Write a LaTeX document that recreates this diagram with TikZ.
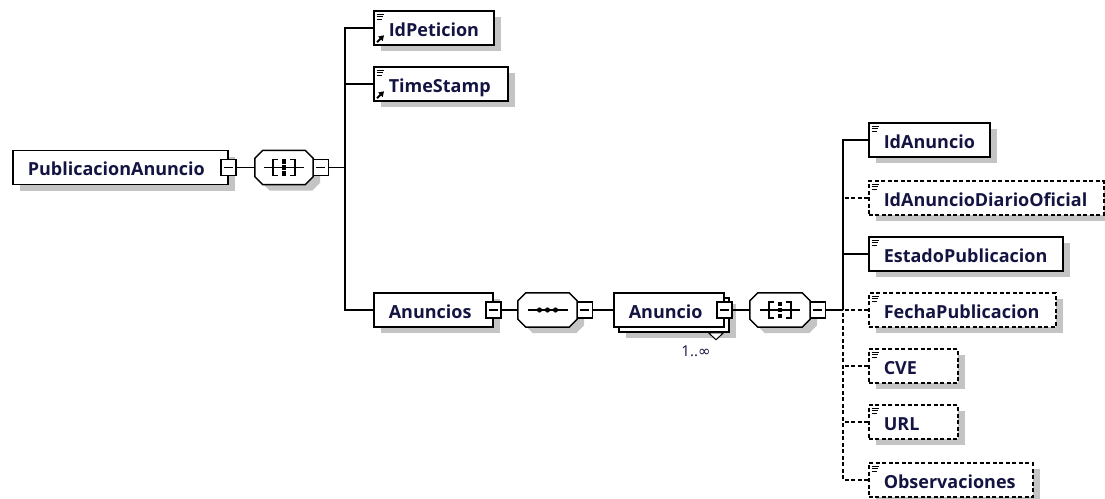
\documentclass[tikz,border=0pt]{standalone}
\usepackage{fontspec}
\setmainfont{Open Sans}
\newfontfamily\symfont{DejaVu Sans}
\usetikzlibrary{shadows,calc,arrows.meta}
\definecolor{txt}{RGB}{20,20,66}
\definecolor{shd}{RGB}{196,196,196}
\tikzset{
  shad/.style={general shadow={fill=shd, shadow xshift=7pt, shadow yshift=-6pt}},
  flatbox/.style={draw=black, fill=white, line width=1.5pt, minimum height=34pt,
    inner xsep=15pt, inner ysep=0pt, text width=#1, align=left, anchor=west,
    text height=17pt, text depth=1pt, font=\bfseries\fontsize{18}{18}\selectfont, text=txt,
    execute at begin node={\hyphenpenalty=10000\exhyphenpenalty=10000}},
  elbox/.style={flatbox=#1, shad},
  optbox/.style={elbox=#1, dash pattern=on 4pt off 2.5pt},
  plainbox/.style={draw=black, fill=white, line width=1.5pt, minimum height=34pt, minimum width=#1, inner sep=0pt, anchor=west},
  octnode/.style={minimum width=#1, minimum height=34pt, inner sep=0pt},
  octdraw/.style={draw=black, fill=white, line width=1.5pt, shad},
  msq/.style={draw=black, fill=white, line width=1.2pt, minimum width=15pt, minimum height=16pt, inner sep=0pt,
    path picture={\draw[line width=1.2pt] ($(path picture bounding box.west)+(3,0)$) -- ($(path picture bounding box.east)+(-3,0)$);}},
  conn/.style={line width=1.5pt},
  optconn/.style={conn, dash pattern=on 4pt off 2.5pt},
}
\newcommand\elicon[1]{\foreach \k in {0,1,2}{\draw[line width=1pt] ($(#1.north west)+(3.5,4+2.5*\k)$) -- ++(7-0.8*\k,0);}}
\newcommand\refarrow[1]{\draw[line width=2pt,-{Triangle[length=5pt,width=6pt]}] ($(#1.south west)+(4,-3.5)$) -- ++(7,-7);}
\newcommand\mkoct[2]{%
  \draw[octdraw] ($(#1.north west)+(#2,0)$) -- ($(#1.north east)+(-#2,0)$) -- ($(#1.north east)+(0,#2)$) --
    ($(#1.south east)+(0,-#2)$) -- ($(#1.south east)+(-#2,0)$) -- ($(#1.south west)+(#2,0)$) --
    ($(#1.south west)+(0,-#2)$) -- ($(#1.north west)+(0,#2)$) -- cycle;}
\newcommand\allicon[1]{%
  \draw[line width=1.4pt] ($(#1)+(-20,0)$) -- ($(#1)+(20,0)$);
  \draw[line width=1.4pt] ($(#1)+(-6,-8)$) -- ($(#1)+(-11,-8)$) -- ($(#1)+(-11,8)$) -- ($(#1)+(-6,8)$);
  \draw[line width=1.4pt] ($(#1)+(6,-8)$) -- ($(#1)+(11,-8)$) -- ($(#1)+(11,8)$) -- ($(#1)+(6,8)$);
  \foreach \k in {-6,0,6}{\fill ($(#1)+(-2.2,\k-2.2)$) rectangle ++(4.4,4.4);}}
\newcommand\seqicon[1]{%
  \draw[line width=1.4pt] ($(#1)+(-20,0)$) -- ($(#1)+(20,0)$);
  \foreach \k in {-8,0,8}{\fill ($(#1)+(\k,0)$) circle (2.6);}}
\begin{document}
\begin{tikzpicture}[x=1pt,y=-1pt]
\useasboundingbox (0,0) rectangle (1105,498);
% root
\node[elbox=185pt] (pa) at (12,167.5) {PublicacionAnuncio};
\node[octnode=58pt] (o1) at (284,167.5) {};
\mkoct{o1}{8}
\allicon{o1.center}
\node[msq] (m1) at (pa.east) {};
\node[msq] (m2) at ($(o1.east)+(7.5,0)$) {};
\coordinate (t1) at (345,167.5);
% first level children
\node[elbox=90pt] (idp) at (373,28) {IdPeticion};
\node[elbox=104pt] (ts) at (373,84) {TimeStamp};
\node[elbox=89pt] (anuncios) at (373,310) {Anuncios};
\elicon{idp}\refarrow{idp}
\elicon{ts}\refarrow{ts}
\draw[conn] (m1) -- (o1.west);
\draw[conn] (m2) -- (t1);
\draw[conn] (idp.west) -| (t1);
\draw[conn] (ts.west) -- (ts.west -| t1);
\draw[conn] (anuncios.west) -| (t1);
% Anuncios sequence
\node[octnode=59pt] (o2) at (547.5,310) {};
\mkoct{o2}{8}
\seqicon{o2.center}
\node[msq] (m3) at (anuncios.east) {};
\node[msq] (m4) at ($(o2.east)+(7.5,0)$) {};
% Anuncio (multiple)
\node[plainbox=110pt, shad] (anback) at (618,315) {};
\node[flatbox=80pt] (anuncio) at (613,310) {Anuncio};
\draw[line width=1pt, fill=white] ($(anback.south east)+(-21,0)$) -- ++(15,0) -- ++(-7.5,7) -- cycle;
\node[font=\fontsize{15}{15}\selectfont, text=txt, inner sep=0pt] (card) at (696,351) {1..{\symfont ∞}};
\draw[conn] (m3) -- (o2.west);
\draw[conn] (m4) -- (anuncio.west);
\node[octnode=60pt] (o3) at (780,310) {};
\mkoct{o3}{8}
\allicon{o3.center}
\node[msq] (m5) at (anuncio.east) {};
\node[msq] (m6) at ($(o3.east)+(7.5,0)$) {};
\coordinate (t2) at (843,310);
\draw[conn] (m5) -- (o3.west);
% second level children
\node[elbox=91pt] (ida) at (868,140) {IdAnuncio};
\node[optbox=205pt] (idado) at (868,198) {IdAnuncioDiarioOficial};
\node[elbox=164pt] (ep) at (868,254) {EstadoPublicacion};
\node[optbox=157pt] (fp) at (868,310) {FechaPublicacion};
\node[optbox=59pt] (cve) at (868,366) {CVE};
\node[optbox=59pt] (url) at (868,422) {URL};
\node[optbox=134pt] (obs) at (868,480) {Observaciones};
\foreach \n in {ida,idado,ep,fp,cve,url,obs}{\elicon{\n}}
\draw[conn] (m6) -- (t2);
\draw[conn] (ida.west) -| (t2);
\draw[conn] (ep.west) -- (ep.west -| t2);
\draw[optconn] (idado.west) -- (idado.west -| t2);
\draw[optconn] (fp.west) -- (fp.west -| t2);
\draw[optconn] (cve.west) -- (cve.west -| t2);
\draw[optconn] (url.west) -- (url.west -| t2);
\draw[optconn] (obs.west) -| (t2);
\end{tikzpicture}
\end{document}
